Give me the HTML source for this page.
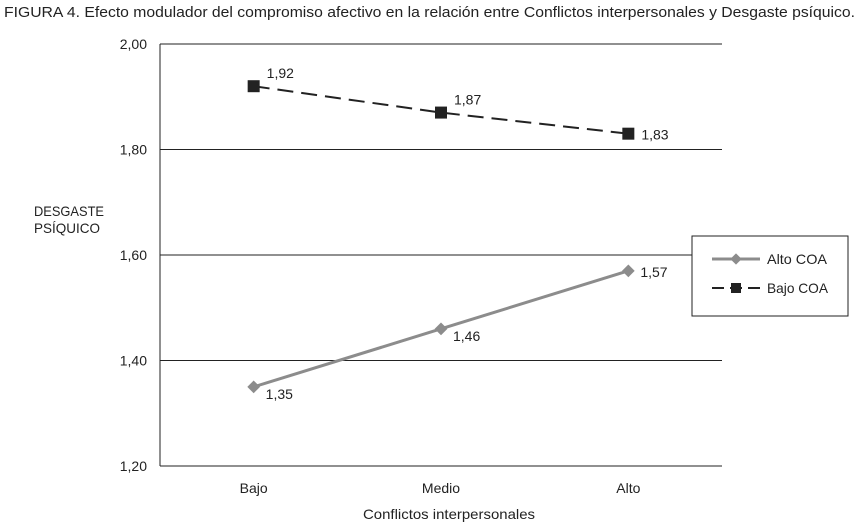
<!DOCTYPE html>
<html><head><meta charset="utf-8"><style>
html,body{margin:0;padding:0;background:#fff;}
svg{display:block;font-family:"Liberation Sans",sans-serif;}
</style></head><body>
<svg id="chart" width="859" height="527" viewBox="0 0 859 527" xmlns="http://www.w3.org/2000/svg">
<text x="4" y="17" font-size="15" textLength="851" lengthAdjust="spacingAndGlyphs" fill="#222">FIGURA 4. Efecto modulador del compromiso afectivo en la relación entre Conflictos interpersonales y Desgaste psíquico.</text>
<g id="grid"></g>
<g id="axes"></g>
<g id="series"></g>
<text font-size="14" fill="#222"><tspan x="34" y="216" textLength="70" lengthAdjust="spacingAndGlyphs">DESGASTE</tspan><tspan x="34" y="233" textLength="66" lengthAdjust="spacingAndGlyphs">PSÍQUICO</tspan></text>
<text x="449" y="519" font-size="14" text-anchor="middle" textLength="172" lengthAdjust="spacingAndGlyphs" fill="#222">Conflictos interpersonales</text>
<g>
<rect x="692" y="236" width="156" height="80" fill="#fff" stroke="#222" stroke-width="1"/>
<g>
<line x1="712" y1="259" x2="760" y2="259" stroke="#8c8c8c" stroke-width="3"/>
<rect x="732" y="255" width="8" height="8" fill="#8c8c8c" transform="rotate(45 736 259)"/>
<text x="767" y="264" font-size="14" textLength="60" lengthAdjust="spacingAndGlyphs" fill="#222">Alto COA</text></g>
<g>
<line x1="712" y1="288" x2="760" y2="288" stroke="#222" stroke-width="2" stroke-dasharray="12,6"/>
<rect x="731" y="283" width="10" height="10" fill="#222"/>
<text x="767" y="293" font-size="14" textLength="61" lengthAdjust="spacingAndGlyphs" fill="#222">Bajo COA</text></g>
</g>
</svg>
<script>
const categories = ["Bajo","Medio","Alto"];
const altoCOA = [1.35,1.46,1.57];
const bajoCOA = [1.92,1.87,1.83];
const yTicks = [1.2,1.4,1.6,1.8,2.0];
const yTickLabels = ["1,20","1,40","1,60","1,80","2,00"];

const NS="http://www.w3.org/2000/svg";
const L=160,R=722,T=44,B=466,ymin=1.2,ymax=2.0;
const xs=i=>L+(R-L)/categories.length*(i+0.5);
const ys=v=>B-(v-ymin)/(ymax-ymin)*(B-T);
const fmt=v=>v.toFixed(2).replace('.',',');
function mk(tag,attrs,parent){const e=document.createElementNS(NS,tag);for(const k in attrs)e.setAttribute(k,attrs[k]);parent.appendChild(e);return e;}
const grid=document.getElementById('grid'),axes=document.getElementById('axes'),ser=document.getElementById('series');
yTicks.forEach((t,i)=>{
  const y=ys(t);
  if(i>0){const g=mk('line',{x1:L,y1:y,x2:R,y2:y,stroke:'#222','stroke-width':1},grid);
  
  }
  const tx=mk('text',{x:L-13,y:y+5,'font-size':14,'text-anchor':'end',fill:'#222'},axes);
  tx.textContent=yTickLabels[i];
  
  
});
const ax=mk('line',{x1:L,y1:T,x2:L,y2:B,stroke:'#222','stroke-width':1},axes);


const bx=mk('line',{x1:L,y1:B,x2:R,y2:B,stroke:'#222','stroke-width':1},axes);


categories.forEach((c,i)=>{
  const t=mk('text',{x:xs(i),y:B+27,'font-size':14,'text-anchor':'middle',fill:'#222'},axes);
  t.textContent=c;
  
  
});
// Alto COA
const pa=mk('polyline',{points:altoCOA.map((v,i)=>xs(i)+','+ys(v)).join(' '),fill:'none',stroke:'#8c8c8c','stroke-width':3},ser);


altoCOA.forEach((v,i)=>{
  const x=xs(i),y=ys(v);
  const m=mk('rect',{x:x-4.5,y:y-4.5,width:9,height:9,fill:'#8c8c8c',transform:`rotate(45 ${x} ${y})`},ser);
  
  
  const t=mk('text',{x:x+12,y:y+(i===2?6:12),'font-size':14,fill:'#222'},ser);
  t.textContent=fmt(v);
  
  
});
// Bajo COA
const pb=mk('polyline',{points:bajoCOA.map((v,i)=>xs(i)+','+ys(v)).join(' '),fill:'none',stroke:'#222','stroke-width':2,'stroke-dasharray':'16,8'},ser);


bajoCOA.forEach((v,i)=>{
  const x=xs(i),y=ys(v);
  const m=mk('rect',{x:x-6,y:y-6,width:12,height:12,fill:'#222'},ser);
  
  
  const t=mk('text',i===2?{x:x+13,y:y+6,'font-size':14,fill:'#222'}:{x:x+13,y:y-8,'font-size':14,fill:'#222'},ser);
  t.textContent=fmt(v);
  
  
});
</script>
</body></html>
